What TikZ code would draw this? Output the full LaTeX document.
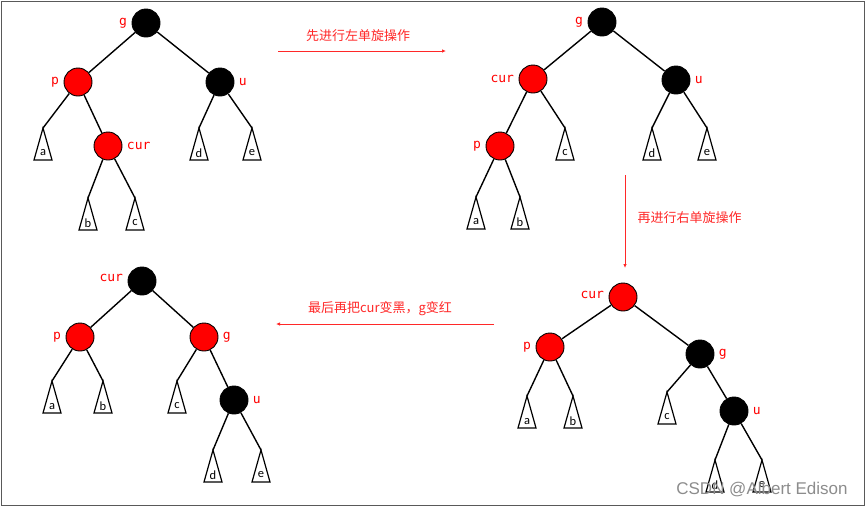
\documentclass[tikz,border=0pt]{standalone}
\usepackage{fontspec}
\newfontfamily\cjkfont{Noto Sans CJK SC}
\newfontfamily\tagfont{DejaVu Sans Mono}
\newfontfamily\leaffont{Carlito}
\newfontfamily\markfont{Liberation Sans}
\usetikzlibrary{arrows.meta,calc}

\definecolor{nodered}{RGB}{255,0,0}
\definecolor{stepred}{RGB}{255,40,40}

\tikzset{
  rednode/.style={circle, draw=black, fill=nodered, minimum size=28pt, inner sep=0pt, line width=0.9pt},
  blacknode/.style={rednode, fill=black},
  nodetag/.style={text=red, font=\tagfont\fontsize{13}{13}\selectfont},
  link/.style={line width=1.4pt},
  leafline/.style={line width=1.2pt, line join=miter},
  leaftext/.style={font=\leaffont\fontsize{12.5}{12.5}\selectfont, inner sep=0pt},
  steparrow/.style={draw=stepred, line width=0.9pt, -{Latex[length=4pt,width=3.5pt]}},
  steptext/.style={text=stepred, font=\cjkfont\fontsize{13}{13}\selectfont}
}

% subtree triangle: name, apex, letter
\newcommand{\leaftri}[3]{%
  \coordinate (#1) at #2;
  \draw[leafline] (#1) -- ++(-9,32) -- ++(18,0) -- cycle;
  \node[leaftext] (#1txt) at ($(#1)+(0,25)$) {#3};
}

\begin{document}
\begin{tikzpicture}[x=1pt, y=-1pt, every label/.style={nodetag}, label distance=1pt]
  \useasboundingbox (0,0) rectangle (867,507);
  \draw[black!65, line width=1.5pt] (1.5,1.5) rectangle (864.5,505.5);

  % Tree 1: start
  \node[blacknode, label=left:g] (g1) at (146,23) {};
  \node[rednode, label=left:p] (p1) at (78,82) {};
  \node[blacknode, label=right:u] (u1) at (220,82) {};
  \node[rednode, label=right:cur] (cur1) at (108,146) {};
  \leaftri{a1}{(43,128)}{a}
  \leaftri{b1}{(88,198)}{b}
  \leaftri{c1}{(135,198)}{c}
  \leaftri{d1}{(199,128)}{d}
  \leaftri{e1}{(252,128)}{e}
  \draw[link] (g1) -- (p1);
  \draw[link] (g1) -- (u1);
  \draw[link] (p1) -- (a1);
  \draw[link] (p1) -- (cur1);
  \draw[link] (cur1) -- (b1);
  \draw[link] (cur1) -- (c1);
  \draw[link] (u1) -- (d1);
  \draw[link] (u1) -- (e1);

  % Tree 2: after left rotation
  \node[blacknode, label=left:g] (g2) at (602,22) {};
  \node[rednode, label=left:cur] (cur2) at (533,79) {};
  \node[blacknode, label=right:u] (u2) at (676,80) {};
  \node[rednode, label=left:p] (p2) at (500,146) {};
  \leaftri{a2}{(476,197)}{a}
  \leaftri{b2}{(520,197)}{b}
  \leaftri{c2}{(565,128)}{c}
  \leaftri{d2}{(652,128)}{d}
  \leaftri{e2}{(707,128)}{e}
  \draw[link] (g2) -- (cur2);
  \draw[link] (g2) -- (u2);
  \draw[link] (cur2) -- (p2);
  \draw[link] (cur2) -- (c2);
  \draw[link] (p2) -- (a2);
  \draw[link] (p2) -- (b2);
  \draw[link] (u2) -- (d2);
  \draw[link] (u2) -- (e2);

  % Tree 3: after right rotation
  \node[rednode, label={[yshift=2pt]left:cur}] (cur3) at (623,297) {};
  \node[rednode, label=left:p] (p3) at (550,347) {};
  \node[blacknode, label=right:g] (g3) at (700,354) {};
  \node[blacknode, label=right:u] (u3) at (734,411) {};
  \leaftri{a3}{(527,396)}{a}
  \leaftri{b3}{(573,396)}{b}
  \leaftri{c3}{(667,392)}{c}
  \leaftri{d3}{(715,460)}{d}
  \leaftri{e3}{(762,460)}{e}
  \draw[link] (cur3) -- (p3);
  \draw[link] (cur3) -- (g3);
  \draw[link] (p3) -- (a3);
  \draw[link] (p3) -- (b3);
  \draw[link] (g3) -- (c3);
  \draw[link] (g3) -- (u3);
  \draw[link] (u3) -- (d3);
  \draw[link] (u3) -- (e3);

  % Tree 4: recoloured
  \node[blacknode, label={[yshift=3pt]left:cur}] (cur4) at (142,281) {};
  \node[rednode, label=left:p] (p4) at (80,337) {};
  \node[rednode, label=right:g] (g4) at (204,337) {};
  \node[blacknode, label=right:u] (u4) at (234,400) {};
  \leaftri{a4}{(52,381)}{a}
  \leaftri{b4}{(103,381)}{b}
  \leaftri{c4}{(177,381)}{c}
  \leaftri{d4}{(213,450)}{d}
  \leaftri{e4}{(261,450)}{e}
  \draw[link] (cur4) -- (p4);
  \draw[link] (cur4) -- (g4);
  \draw[link] (p4) -- (a4);
  \draw[link] (p4) -- (b4);
  \draw[link] (g4) -- (c4);
  \draw[link] (g4) -- (u4);
  \draw[link] (u4) -- (d4);
  \draw[link] (u4) -- (e4);

  % Step arrows
  \coordinate (s1a) at (278,51);
  \coordinate (s1b) at (446,51);
  \draw[steparrow] (s1a) -- (s1b);
  \node[steptext] (s1txt) at (358,36) {先进行左单旋操作};

  \coordinate (s2a) at (625,175);
  \coordinate (s2b) at (625,268);
  \draw[steparrow] (s2a) -- (s2b);
  \node[steptext, anchor=west] (s2txt) at (634,218) {再进行右单旋操作};

  \coordinate (s3a) at (494,324);
  \coordinate (s3b) at (276,324);
  \draw[steparrow] (s3a) -- (s3b);
  \node[steptext] (s3txt) at (380,309) {最后再把cur变黑，g变红};

  % watermark
  \node[text=black!45, font=\markfont\fontsize{17}{17}\selectfont] (mark) at (762,490) {CSDN @Albert Edison};
\end{tikzpicture}
\end{document}
